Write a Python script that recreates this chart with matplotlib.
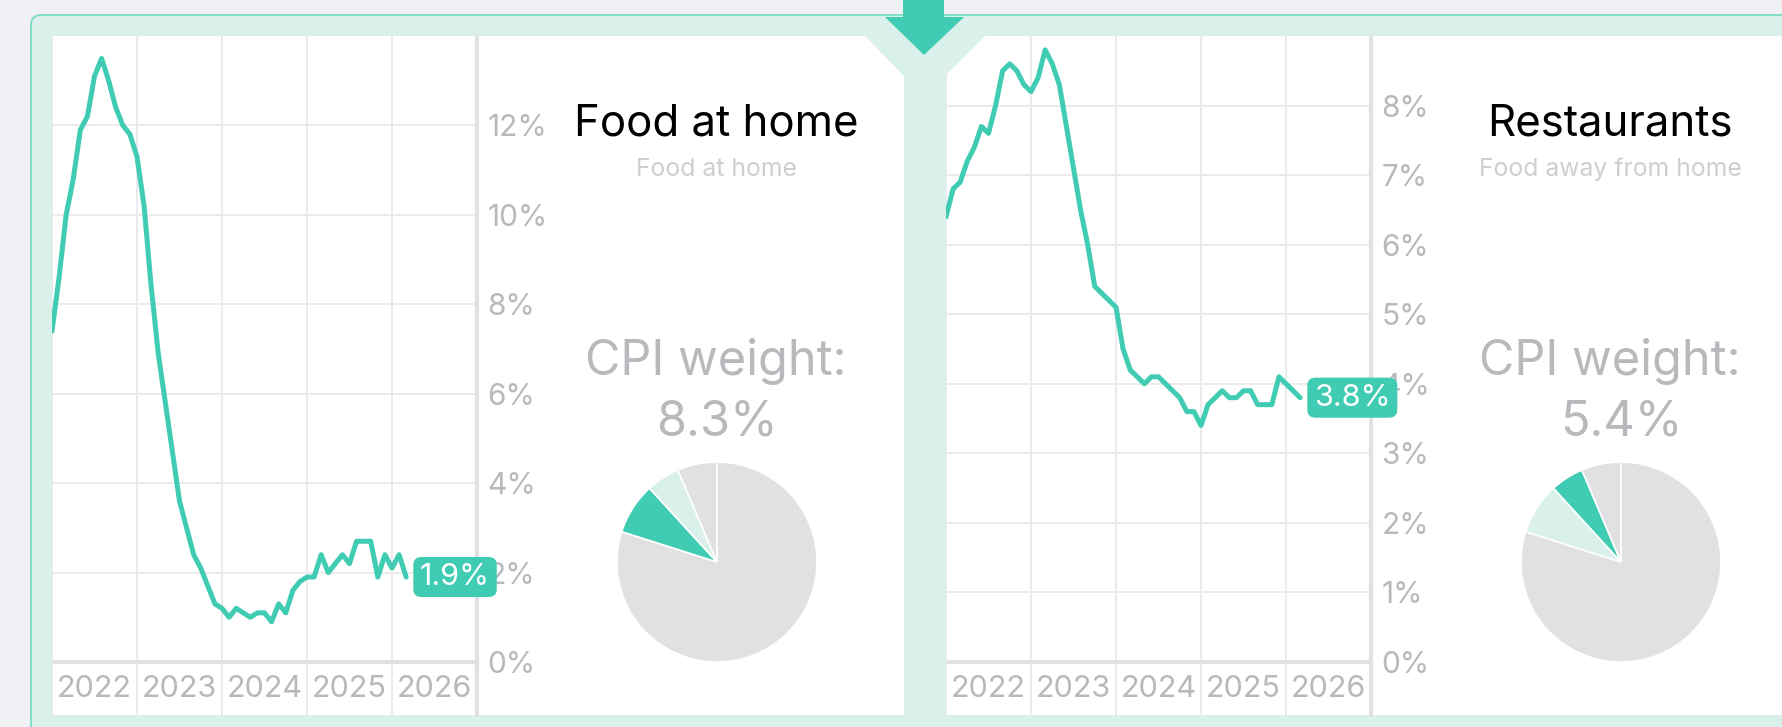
import pandas as pd
import matplotlib
matplotlib.use("Agg")
import matplotlib.pyplot as plt
from matplotlib.patches import FancyBboxPatch, Polygon
from matplotlib.transforms import blended_transform_factory

plt.rcParams['font.family'] = ['Inter', 'DejaVu Sans']

W, H = 1782, 727

# monthly YoY inflation, Jan 2022 .. Mar 2026
months = pd.date_range("2022-01-01", "2026-03-01", freq="MS")
years = [2022, 2023, 2024, 2025, 2026]

food_at_home = [7.4, 8.6, 10.0, 10.8, 11.9, 12.2, 13.1, 13.5, 13.0, 12.4, 12.0, 11.8,
                11.3, 10.2, 8.4, 6.9, 5.8, 4.7, 3.6, 3.0, 2.4, 2.1, 1.7, 1.3,
                1.2, 1.0, 1.2, 1.1, 1.0, 1.1, 1.1, 0.9, 1.3, 1.1, 1.6, 1.8,
                1.9, 1.9, 2.4, 2.0, 2.2, 2.4, 2.2, 2.7, 2.7, 2.7, 1.9, 2.4,
                2.1, 2.4, 1.9]
restaurants = [6.4, 6.8, 6.9, 7.2, 7.4, 7.7, 7.6, 8.0, 8.5, 8.6, 8.5, 8.3,
               8.2, 8.4, 8.8, 8.6, 8.3, 7.7, 7.1, 6.5, 6.0, 5.4, 5.3, 5.2,
               5.1, 4.5, 4.2, 4.1, 4.0, 4.1, 4.1, 4.0, 3.9, 3.8, 3.6, 3.6,
               3.4, 3.7, 3.8, 3.9, 3.8, 3.8, 3.9, 3.9, 3.7, 3.7, 3.7, 4.1,
               4.0, 3.9, 3.8]

# CPI weights (%) for the pies
weight_food_home = 8.3
weight_restaurants = 5.4
weight_other_slice = 6.4
weight_rest = 100 - weight_food_home - weight_restaurants - weight_other_slice

panels = [
    dict(title="Food at home", sub="Food at home", values=food_at_home,
         ymax=14, ystep=2, weight=weight_food_home, highlight=1),
    dict(title="Restaurants", sub="Food away from home", values=restaurants,
         ymax=9, ystep=1, weight=weight_restaurants, highlight=2),
]

TEAL = "#40ccb2"
MINT = "#daf1eb"
BORDER = "#74d9c4"
GRID = "#ebebed"
AXIS = "#e1e1e4"
LABEL = "#b8b8bd"
PIE_GRAY = "#e1e1e3"

xdec = [d.year + (d.month - 1) / 12 for d in months]


def px_rect(x0, y0, x1, y1):
    return [x0 / W, 1 - y1 / H, (x1 - x0) / W, (y1 - y0) / H]


fig = plt.figure(figsize=(W / 100, H / 100), dpi=100, facecolor="#f0f1f4")

# background card drawn in pixel coordinates
bg = fig.add_axes([0, 0, 1, 1], zorder=-1)
bg.set_xlim(0, W)
bg.set_ylim(H, 0)
bg.axis("off")
bg.add_patch(FancyBboxPatch((31, 15), W, H + 60, boxstyle="round,pad=0,rounding_size=10",
                            fc=MINT, ec=BORDER, lw=1.2))
bg.add_patch(Polygon([(52, 36), (865, 36), (904, 76), (904, 715), (52, 715)],
                     closed=True, fc="white", ec="none"))
bg.add_patch(Polygon([(985, 36), (W + 5, 36), (W + 5, 715), (946, 715), (946, 75)],
                     closed=True, fc="white", ec="none"))
bg.add_patch(Polygon([(903, 0), (944, 0), (944, 17), (964, 17), (924, 55), (885, 17), (903, 17)],
                     closed=True, fc=TEAL, ec="none"))

chart_left = [52, 946]
text_cx = [716, 1610]
pie_cx = [717, 1621]

for i, p in enumerate(panels):
    x0 = chart_left[i]
    ax = fig.add_axes(px_rect(x0, 36, x0 + 425, 715))
    ax.set_facecolor("none")
    ymax = p["ymax"]
    ylo = -ymax * (715 - 662) / (662 - 36)
    ax.set_ylim(ylo, ymax)
    ax.set_xlim(years[0], years[-1] + 1)

    ax.set_xticks(years)
    ax.set_xticklabels([])
    yt = list(range(0, ymax, p["ystep"]))
    ax.set_yticks(yt)
    ax.set_yticklabels([f"{v}%" for v in yt])
    ax.yaxis.tick_right()
    ax.tick_params(length=0, labelsize=21.5, labelcolor=LABEL, pad=7.5)
    ax.tick_params(axis="x", pad=0)
    ax.grid(True, color=GRID, lw=1.4)
    ax.set_axisbelow(True)
    for s in ["top", "left", "bottom"]:
        ax.spines[s].set_visible(False)
    ax.spines["right"].set_color(AXIS)
    ax.spines["right"].set_linewidth(3)
    ax.axhline(0, color=AXIS, lw=3, zorder=2)

    tr = blended_transform_factory(ax.transData, ax.transAxes)
    for y in years:
        ax.text(y + 0.5, 0.038, str(y), transform=tr, ha="center", va="center",
                fontsize=22, color=LABEL)

    vals = p["values"]
    ax.plot(xdec, vals, color=TEAL, lw=3.6, solid_joinstyle="round",
            solid_capstyle="round", zorder=3)
    ax.annotate(f"{vals[-1]:.1f}%", xy=(xdec[-1], vals[-1]), xytext=(10, 0),
                textcoords="offset points", ha="left", va="center",
                fontsize=22, color="white", zorder=10, annotation_clip=False,
                bbox=dict(boxstyle="round,pad=0.22,rounding_size=0.28", fc=TEAL,
                          ec="none", mutation_aspect=0.9))

    cx = text_cx[i]
    bg.text(cx, 135, p["title"], ha="center", va="baseline", fontsize=31.5, color="black")
    bg.text(cx, 176, p["sub"], ha="center", va="baseline", fontsize=17.8, color="#cfcfd3")
    bg.text(cx, 375, "CPI weight:", ha="center", va="baseline", fontsize=35, color=LABEL)
    bg.text(pie_cx[i], 436, f"{p['weight']}%", ha="center", va="baseline",
            fontsize=35, color=LABEL)

    pax = fig.add_axes(px_rect(pie_cx[i] - 100, 462, pie_cx[i] + 100, 662))
    colors = [PIE_GRAY, MINT, MINT, PIE_GRAY]
    colors[p["highlight"]] = TEAL
    pax.pie([weight_rest, weight_food_home, weight_restaurants, weight_other_slice],
            colors=colors, startangle=90, counterclock=False,
            wedgeprops=dict(edgecolor="white", linewidth=1.2))
    pax.set_xlim(-1, 1)
    pax.set_ylim(-1, 1)

fig.savefig("out.png", dpi=100, facecolor=fig.get_facecolor())
